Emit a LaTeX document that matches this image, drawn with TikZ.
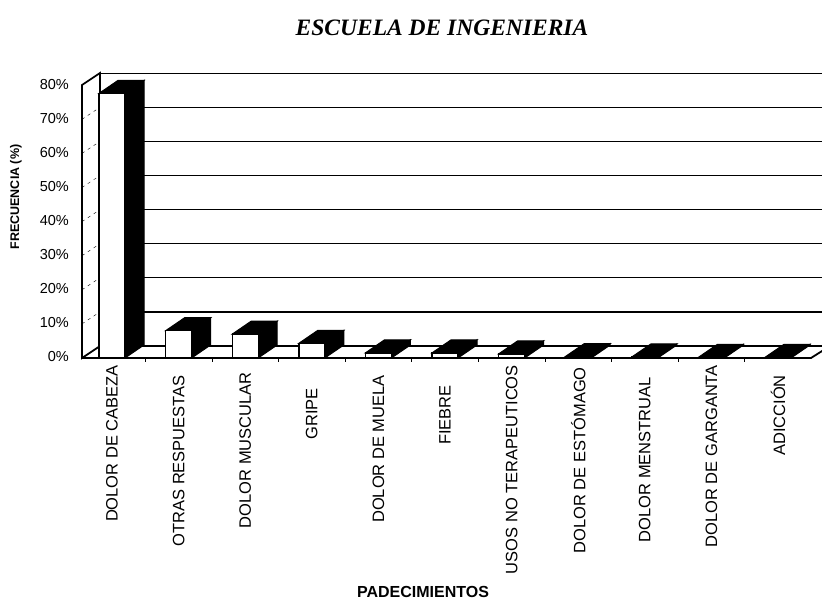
\documentclass[tikz,border=0pt]{standalone}
\usepackage{fontspec}
\setmainfont{Liberation Sans}
\newfontfamily\titlefont{Liberation Serif}
\begin{document}
\begin{tikzpicture}[x=1pt, y=-1pt, line join=miter,
    every node/.style={inner sep=0pt, font=\fontsize{16.5}{16.5}\selectfont},
    ticklabel/.style={anchor=east, font=\fontsize{14.5}{14.5}\selectfont},
    catlabel/.style={anchor=east, rotate=90},
    axistitle/.style={font=\bfseries\fontsize{16}{16}\selectfont},
    wall/.style={line width=1.8pt},
    gridline/.style={line width=1.3pt},
    barfront/.style={fill=white, draw=black, line width=1.4pt},
    bardark/.style={fill=black, draw=black, line width=1pt}]
  \useasboundingbox (0,0) rectangle (822,602);
  % back wall
  \foreach \v in {0,10,...,80}
    \draw[gridline] (100,{346-3.41*\v}) -- (822,{346-3.41*\v});
  % left wall
  \foreach \v in {10,20,...,70}
    \draw[thin, dash pattern=on 3pt off 4pt] (82,{358-3.41*\v}) -- (100,{346-3.41*\v});
  \draw[wall] (100,346) -- (100,73) -- (82,85) -- (82,358) -- (100,346);
  % floor
  \draw[wall] (82,358) -- (811,358) -- (830,346);
  \foreach \i in {1,...,10}
    \draw[thick] ({78.7+66.6*\i},358) -- ++(0,4);
  % bars
  \foreach \v [count=\i from 0] in {77.6,8.0,7.0,4.3,1.5,1.5,1.2,0.4,0.3,0.2,0.2} {
    \pgfmathsetmacro{\cx}{112+66.6*\i}
    \pgfmathsetmacro{\yt}{358-3.41*\v}
    \filldraw[bardark] (\cx+13,358) -- (\cx+13,\yt) -- (\cx+32,\yt-13) -- (\cx+32,345) -- cycle;
    \filldraw[bardark] (\cx-13,\yt) -- (\cx+13,\yt) -- (\cx+32,\yt-13) -- (\cx+6,\yt-13) -- cycle;
    \draw[barfront] (\cx-13,358) rectangle (\cx+13,\yt);
  }
  % axis labels
  \foreach \v in {0,10,...,80}
    \node[ticklabel] (tick\v) at (69,{357-3.41*\v}) {\v\%};
  \foreach \txt/\ytop [count=\i from 0] in {DOLOR DE CABEZA/365, OTRAS RESPUESTAS/375,
      DOLOR MUSCULAR/372, GRIPE/388, DOLOR DE MUELA/375, FIEBRE/385,
      USOS NO TERAPEUTICOS/365, DOLOR DE ESTÓMAGO/367, DOLOR MENSTRUAL/377,
      DOLOR DE GARGANTA/365, ADICCIÓN/375}
    \node[catlabel] (cat\i) at ({112+66.6*\i},\ytop) {\txt};
  \node[font=\titlefont\bfseries\itshape\fontsize{23.5}{23.5}\selectfont] (title) at (442,28) {ESCUELA DE INGENIERIA};
  \node[axistitle, rotate=90, font=\bfseries\fontsize{12.5}{12.5}\selectfont] (ytitle) at (16,197) {FRECUENCIA (\%)};
  \node[axistitle] (xtitle) at (423,592) {PADECIMIENTOS};
\end{tikzpicture}
\end{document}
